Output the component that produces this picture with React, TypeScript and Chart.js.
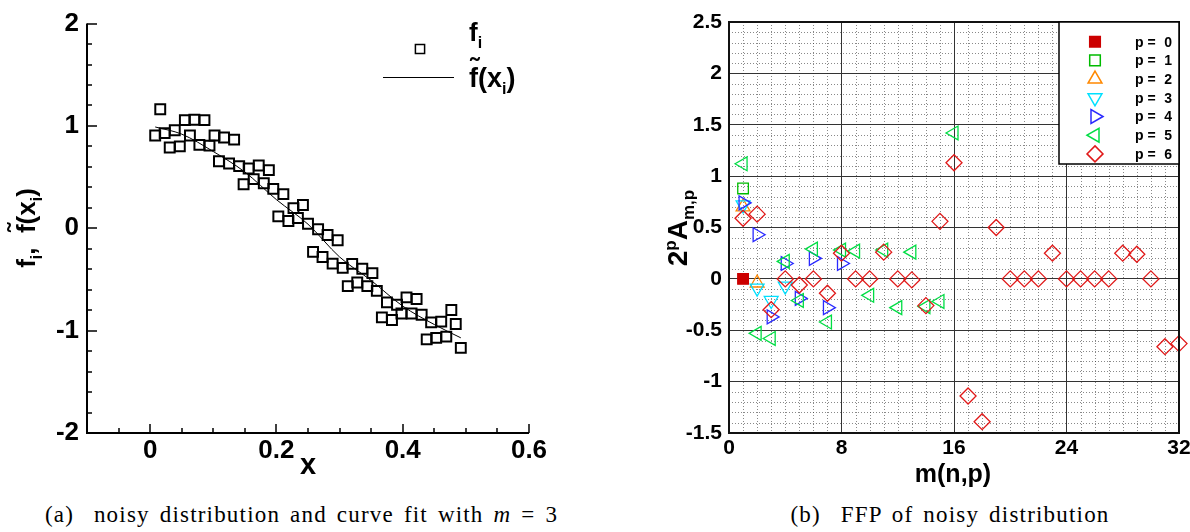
import React, { useEffect, useRef } from 'react';
import { Chart, registerables } from 'chart.js';

Chart.register(...registerables);

const SANS = '"Liberation Sans", Arial, Helvetica, sans-serif';
const SERIF = '"Liberation Serif", "Times New Roman", serif';

// ---------------- (a) noisy distribution ----------------
const noisyX = [
  0.008, 0.016, 0.023, 0.031, 0.039, 0.047, 0.055, 0.063, 0.070, 0.078,
  0.086, 0.094, 0.102, 0.109, 0.117, 0.125, 0.133, 0.141, 0.148, 0.156,
  0.164, 0.172, 0.180, 0.188, 0.195, 0.203, 0.211, 0.219, 0.227, 0.234,
  0.242, 0.250, 0.258, 0.266, 0.273, 0.281, 0.289, 0.297, 0.305, 0.313,
  0.320, 0.328, 0.336, 0.344, 0.352, 0.359, 0.367, 0.375, 0.383, 0.391,
  0.398, 0.406, 0.414, 0.422, 0.430, 0.438, 0.445, 0.453, 0.461, 0.469,
  0.477, 0.484, 0.492,
];
const noisyF = [
  0.906, 1.163, 0.93, 0.79, 0.958, 0.80, 1.057, 0.906, 1.061, 0.815,
  1.057, 0.808, 0.906, 0.655, 0.887, 0.633, 0.866, 0.607, 0.43, 0.585,
  0.48, 0.614, 0.44, 0.568, 0.385, 0.117, 0.334, 0.071, 0.197, 0.10,
  0.227, 0.045, -0.23, -0.01, -0.28, -0.065, -0.345, -0.117, -0.387, -0.565,
  -0.348, -0.53, -0.395, -0.565, -0.438, -0.611, -0.87, -0.724, -0.896, -0.747,
  -0.832, -0.675, -0.832, -0.691, -0.844, -1.085, -0.919, -1.071, -0.912, -1.058,
  -0.798, -0.935, -1.168,
];
const fitX = [0.008, 0.05, 0.1, 0.15, 0.2, 0.25, 0.3, 0.35, 0.4, 0.45, 0.492];
const fitF = [0.99, 0.92, 0.75, 0.55, 0.28, 0.04, -0.28, -0.51, -0.76, -0.94, -1.07];
const aXTicks = [0, 0.2, 0.4, 0.6];
const aYTicks = [-2, -1, 0, 1, 2];
const aXMinor = [-0.05, 0.05, 0.1, 0.15, 0.25, 0.3, 0.35, 0.45, 0.5, 0.55];
const aYMinor = [-1.8, -1.6, -1.4, -1.2, -0.8, -0.6, -0.4, -0.2, 0.2, 0.4, 0.6, 0.8, 1.2, 1.4, 1.6, 1.8];

// ---------------- (b) FFP of noisy distribution ----------------
const p0M = [1];
const p0A = [0];
const p1M = [1];
const p1A = [0.88];
const p2M = [1, 2];
const p2A = [0.70, -0.04];
const p3M = [1, 2, 3, 4];
const p3A = [0.72, -0.09, -0.21, -0.07];
const p4M = [1, 2, 3, 4, 5, 6, 7, 8];
const p4A = [0.74, 0.43, -0.37, 0.15, -0.19, 0.2, -0.28, 0.15];
const p5M = [1, 2, 3, 4, 5, 6, 7, 8, 9, 10, 11, 12, 13, 14, 15, 16];
const p5A = [1.12, -0.53, -0.58, 0.17, -0.21, 0.29, -0.42, 0.28, 0.27, -0.16, 0.28, -0.28, 0.26, -0.27, -0.22, 1.42];
const p6M = [1, 2, 3, 4, 5, 6, 7, 8, 9, 10, 11, 12, 13, 14, 15, 16, 17, 18, 19, 20, 21, 22, 23, 24, 25, 26, 27, 28, 29, 30, 31, 32];
const p6A = [0.59, 0.63, -0.30, 0, -0.06, 0, -0.14, 0.25, 0, 0, 0.26, 0, -0.01, -0.26, 0.56, 1.13,
  -1.14, -1.39, 0.50, 0, 0, 0, 0.25, 0, 0, 0, 0, 0.25, 0.24, 0, -0.66, -0.63];
const bXTicks = [0, 8, 16, 24, 32];
const bYTicks = [-1.5, -1, -0.5, 0, 0.5, 1, 1.5, 2, 2.5];
const pLabels = ['0', '1', '2', '3', '4', '5', '6'];

const seriesM = [p0M, p1M, p2M, p3M, p4M, p5M, p6M];
const seriesA = [p0A, p1A, p2A, p3A, p4A, p5A, p6A];
const seriesStyle = [
  { shape: 'rect', rot: 0, color: '#cc0000', fill: true, r: 7.5 },
  { shape: 'rect', rot: 0, color: '#00bb00', fill: false, r: 7.5 },
  { shape: 'triangle', rot: 0, color: '#ff8800', fill: false, r: 8 },
  { shape: 'triangle', rot: 180, color: '#00e0ff', fill: false, r: 8 },
  { shape: 'triangle', rot: 90, color: '#2a2aff', fill: false, r: 8 },
  { shape: 'triangle', rot: 270, color: '#00dd44', fill: false, r: 8 },
  { shape: 'rectRot', rot: 0, color: '#e01818', fill: false, r: 8 },
];

type Part = { t: string; s: number; dy?: number; tilde?: boolean };

function richWidth(ctx: CanvasRenderingContext2D, parts: Part[]) {
  let w = 0;
  for (const p of parts) {
    ctx.font = `bold ${p.s}px ${SANS}`;
    w += ctx.measureText(p.t).width;
  }
  return w;
}

function drawRich(ctx: CanvasRenderingContext2D, parts: Part[], x: number, y: number) {
  let cx = x;
  ctx.textAlign = 'left';
  ctx.textBaseline = 'alphabetic';
  for (const p of parts) {
    ctx.font = `bold ${p.s}px ${SANS}`;
    const w = ctx.measureText(p.t).width;
    ctx.fillText(p.t, cx, y + (p.dy || 0));
    if (p.tilde) {
      ctx.save();
      ctx.textAlign = 'center';
      ctx.fillText('\u02DC', cx + w / 2 + 1, y - p.s * 0.36);
      ctx.restore();
    }
    cx += w;
  }
}

function markerPath(ctx: CanvasRenderingContext2D, shape: string, x: number, y: number, r: number, rot: number) {
  ctx.beginPath();
  if (shape === 'rect') {
    const s = r * Math.SQRT1_2;
    ctx.rect(x - s, y - s, 2 * s, 2 * s);
  } else if (shape === 'rectRot') {
    ctx.moveTo(x, y - r);
    ctx.lineTo(x + r, y);
    ctx.lineTo(x, y + r);
    ctx.lineTo(x - r, y);
    ctx.closePath();
  } else {
    let a = (rot * Math.PI) / 180;
    for (let k = 0; k < 3; k++) {
      const px = x + Math.sin(a) * r;
      const py = y - Math.cos(a) * r;
      if (k === 0) ctx.moveTo(px, py);
      else ctx.lineTo(px, py);
      a += (2 * Math.PI) / 3;
    }
    ctx.closePath();
  }
}

const aPlugin = {
  id: 'aDecor',
  afterDraw(chart: any) {
    const { ctx, chartArea: a, scales } = chart;
    const xs = scales.x;
    const ys = scales.y;
    ctx.save();
    ctx.strokeStyle = '#000';
    // ticks (inward)
    ctx.lineWidth = 1.5;
    ctx.beginPath();
    for (const v of aXTicks) {
      const px = Math.round(xs.getPixelForValue(v));
      ctx.moveTo(px, a.bottom);
      ctx.lineTo(px, a.bottom - 9);
    }
    for (const v of aXMinor) {
      const px = Math.round(xs.getPixelForValue(v));
      ctx.moveTo(px, a.bottom);
      ctx.lineTo(px, a.bottom - 5);
    }
    for (const v of aYTicks) {
      const py = Math.round(ys.getPixelForValue(v));
      ctx.moveTo(a.left, py);
      ctx.lineTo(a.left + 10, py);
    }
    for (const v of aYMinor) {
      const py = Math.round(ys.getPixelForValue(v));
      ctx.moveTo(a.left, py);
      ctx.lineTo(a.left + 5, py);
    }
    ctx.stroke();
    // axis lines
    ctx.lineWidth = 2;
    ctx.beginPath();
    ctx.moveTo(a.left, a.top);
    ctx.lineTo(a.left, a.bottom);
    ctx.lineTo(a.right, a.bottom);
    ctx.stroke();

    // legend
    ctx.fillStyle = '#000';
    ctx.lineWidth = 1.5;
    markerPath(ctx, 'rect', 420, 49, 6.5, 0);
    ctx.stroke();
    ctx.lineWidth = 1;
    ctx.beginPath();
    ctx.moveTo(383, 77.5);
    ctx.lineTo(454, 77.5);
    ctx.stroke();
    drawRich(ctx, [{ t: 'f', s: 26 }, { t: 'i', s: 16, dy: 7 }], 469, 41);
    drawRich(ctx, [{ t: 'f', s: 27, tilde: true }, { t: '(x', s: 27 }, { t: 'i', s: 16, dy: 7 }, { t: ')', s: 27 }], 469, 87);

    // axis titles
    ctx.font = `bold 29px ${SANS}`;
    ctx.textAlign = 'center';
    ctx.textBaseline = 'alphabetic';
    ctx.fillText('x', 308, 474);

    const yParts: Part[] = [
      { t: 'f', s: 26 }, { t: 'i', s: 16, dy: 7 }, { t: ',  ', s: 26 },
      { t: 'f', s: 26, tilde: true }, { t: '(x', s: 26 }, { t: 'i', s: 16, dy: 7 }, { t: ')', s: 26 },
    ];
    ctx.translate(35, 228);
    ctx.rotate(-Math.PI / 2);
    const w = richWidth(ctx, yParts);
    drawRich(ctx, yParts, -w / 2, 0);
    ctx.restore();
  },
};

const bPlugin = {
  id: 'bDecor',
  beforeDatasetsDraw(chart: any) {
    const { ctx, chartArea: a, scales } = chart;
    const xs = scales.x;
    const ys = scales.y;
    ctx.save();
    ctx.strokeStyle = 'rgba(40,40,40,0.55)';
    ctx.lineWidth = 1;
    ctx.setLineDash([1, 2]);
    ctx.beginPath();
    for (let m = 1; m < 32; m++) {
      if (m % 8 === 0) continue;
      const px = Math.round(xs.getPixelForValue(m)) + 0.5;
      ctx.moveTo(px, a.top);
      ctx.lineTo(px, a.bottom);
    }
    for (let k = -14; k < 25; k++) {
      if (k % 5 === 0) continue;
      const py = Math.round(ys.getPixelForValue(k / 10)) + 0.5;
      ctx.moveTo(a.left, py);
      ctx.lineTo(a.right, py);
    }
    ctx.stroke();
    ctx.restore();
  },
  afterDraw(chart: any) {
    const { ctx, chartArea: a } = chart;
    ctx.save();
    // frame
    ctx.strokeStyle = '#111';
    ctx.lineWidth = 2;
    ctx.strokeRect(a.left, a.top, a.right - a.left, a.bottom - a.top);

    // legend box
    const bw = 120;
    const bh = 142;
    const bx = a.right - bw;
    const by = a.top;
    ctx.fillStyle = '#fff';
    ctx.fillRect(bx, by, bw, bh);
    ctx.lineWidth = 1.5;
    ctx.strokeStyle = '#000';
    ctx.strokeRect(bx, by, bw, bh);
    for (let i = 0; i < pLabels.length; i++) {
      const st = seriesStyle[i];
      const cy = by + 19.7 + i * 18.7;
      markerPath(ctx, st.shape, bx + 36, cy, st.r, st.rot);
      if (st.fill) {
        ctx.fillStyle = st.color;
        ctx.fill();
      }
      ctx.strokeStyle = st.color;
      ctx.lineWidth = 1.5;
      ctx.stroke();
      ctx.fillStyle = '#000';
      ctx.font = `bold 14px ${SANS}`;
      ctx.textBaseline = 'middle';
      ctx.textAlign = 'left';
      ctx.fillText('p =', bx + 76, cy + 1);
      ctx.textAlign = 'right';
      ctx.fillText(pLabels[i], bx + 113, cy + 1);
    }

    // axis titles
    ctx.fillStyle = '#000';
    ctx.font = `bold 25px ${SANS}`;
    ctx.textAlign = 'center';
    ctx.textBaseline = 'alphabetic';
    ctx.fillText('m(n,p)', 353, 482);

    const yParts: Part[] = [
      { t: '2', s: 28 }, { t: 'p', s: 17, dy: -11 }, { t: 'A', s: 28 }, { t: 'm,p', s: 17, dy: 7 },
    ];
    ctx.translate(87, 228);
    ctx.rotate(-Math.PI / 2);
    const w = richWidth(ctx, yParts);
    drawRich(ctx, yParts, -w / 2, 0);
    ctx.restore();
  },
};

function buildA(): any {
  const pts = noisyX.map((x, i) => ({ x, y: noisyF[i] }));
  const fit = fitX.map((x, i) => ({ x, y: fitF[i] }));
  const tickFont = { family: SANS, size: 26, weight: 'bold' as const };
  return {
    type: 'scatter',
    data: {
      datasets: [
        {
          label: 'fit', data: fit, showLine: true, borderColor: '#000', borderWidth: 1,
          pointRadius: 0, cubicInterpolationMode: 'monotone', fill: false,
        },
        {
          label: 'f_i', data: pts, showLine: false, pointStyle: 'rect', pointRadius: 7,
          pointBorderWidth: 2, pointBorderColor: '#000', pointBackgroundColor: 'rgba(0,0,0,0)',
          borderColor: '#000',
        },
      ],
    },
    options: {
      responsive: false,
      animation: false,
      devicePixelRatio: 1,
      events: [],
      layout: { padding: { left: 0, right: 71, top: 22, bottom: 17 } },
      plugins: { legend: { display: false }, tooltip: { enabled: false } },
      scales: {
        x: {
          type: 'linear', min: -0.1, max: 0.6,
          grid: { display: false, drawTicks: false }, border: { display: false },
          afterFit: (s: any) => { s.height = 40; },
          afterBuildTicks: (s: any) => { s.ticks = aXTicks.map((v) => ({ value: v })); },
          ticks: { font: tickFont, color: '#000', padding: 2, maxRotation: 0, autoSkip: false, callback: (v: any) => String(v) },
        },
        y: {
          type: 'linear', min: -2, max: 2,
          grid: { display: false, drawTicks: false }, border: { display: false },
          afterFit: (s: any) => { s.width = 87; },
          afterBuildTicks: (s: any) => { s.ticks = aYTicks.map((v) => ({ value: v })); },
          ticks: { font: tickFont, color: '#000', padding: 8, autoSkip: false, callback: (v: any) => String(v) },
        },
      },
    },
    plugins: [aPlugin],
  };
}

function buildB(): any {
  const tickFont = { family: SANS, size: 21, weight: 'bold' as const };
  const datasets = seriesM.map((ms, i) => {
    const st = seriesStyle[i];
    return {
      label: 'p = ' + pLabels[i],
      data: ms.map((m, j) => ({ x: m, y: seriesA[i][j] })),
      showLine: false,
      clip: false,
      pointStyle: st.shape,
      pointRotation: st.rot,
      pointRadius: st.r,
      pointBorderWidth: 1.3,
      pointBorderColor: st.color,
      borderColor: st.color,
      pointBackgroundColor: st.fill ? st.color : 'rgba(0,0,0,0)',
      backgroundColor: st.fill ? st.color : 'rgba(0,0,0,0)',
      order: 7 - i,
    };
  });
  return {
    type: 'scatter',
    data: { datasets },
    options: {
      responsive: false,
      animation: false,
      devicePixelRatio: 1,
      events: [],
      layout: { padding: { left: 0, right: 21, top: 22, bottom: 17 } },
      plugins: { legend: { display: false }, tooltip: { enabled: false } },
      scales: {
        x: {
          type: 'linear', min: 0, max: 32,
          grid: { color: '#333', lineWidth: 1, drawTicks: false }, border: { display: false },
          afterFit: (s: any) => { s.height = 40; },
          afterBuildTicks: (s: any) => { s.ticks = bXTicks.map((v) => ({ value: v })); },
          ticks: { font: tickFont, color: '#000', padding: 3, maxRotation: 0, autoSkip: false, callback: (v: any) => String(v) },
        },
        y: {
          type: 'linear', min: -1.5, max: 2.5,
          grid: { color: '#333', lineWidth: 1, drawTicks: false }, border: { display: false },
          afterFit: (s: any) => { s.width = 129; },
          afterBuildTicks: (s: any) => { s.ticks = bYTicks.map((v) => ({ value: v })); },
          ticks: { font: tickFont, color: '#000', padding: 7, autoSkip: false, callback: (v: any) => String(v) },
        },
      },
    },
    plugins: [bPlugin],
  };
}

export default function App() {
  const aRef = useRef<HTMLCanvasElement>(null);
  const bRef = useRef<HTMLCanvasElement>(null);
  useEffect(() => {
    const ca = new Chart(aRef.current as HTMLCanvasElement, buildA());
    const cb = new Chart(bRef.current as HTMLCanvasElement, buildB());
    return () => {
      ca.destroy();
      cb.destroy();
    };
  }, []);
  const capStyle: React.CSSProperties = {
    position: 'absolute', top: 503, textAlign: 'center', font: `23px ${SERIF}`, lineHeight: '23px',
    color: '#000', whiteSpace: 'nowrap', letterSpacing: '1.2px', wordSpacing: '3px',
  };
  return (
    <div style={{ position: 'absolute', left: 0, top: 0, width: 1190, height: 532, overflow: 'hidden', background: '#fff' }}>
      <canvas ref={aRef} width={600} height={490} style={{ position: 'absolute', left: 0, top: 0, width: 600, height: 490 }} />
      <canvas ref={bRef} width={600} height={490} style={{ position: 'absolute', left: 600, top: 0, width: 600, height: 490 }} />
      <div style={{ ...capStyle, left: 0, width: 603 }}>
        (a)&nbsp; noisy distribution and curve fit with <i>m</i> = 3
      </div>
      <div style={{ ...capStyle, left: 700, width: 500 }}>
        (b)&nbsp; FFP of noisy distribution
      </div>
    </div>
  );
}
